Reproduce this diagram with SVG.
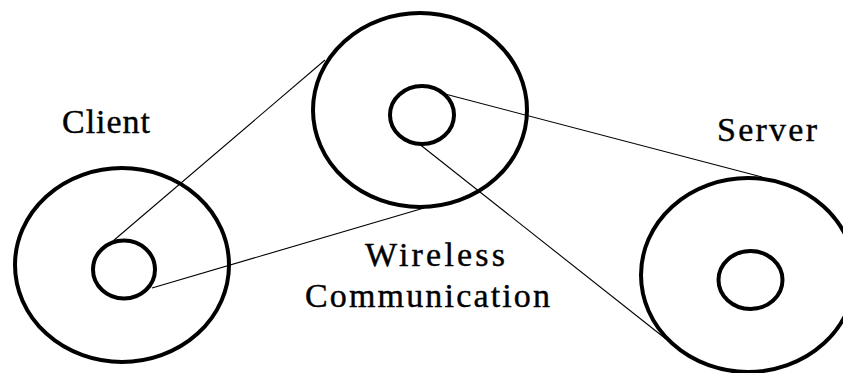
<svg xmlns="http://www.w3.org/2000/svg" width="843" height="373" viewBox="0 0 843 373">
<style>
.ring{fill:none;stroke:#000;stroke-width:4}
.hole{fill:none;stroke:#000;stroke-width:4}
.link{stroke:#000;stroke-width:1.1;fill:none}
text{font-family:"Liberation Serif","Times New Roman",serif;font-size:34px;fill:#000;stroke:#000;stroke-width:0.4}
</style>
<rect width="843" height="373" fill="#fff"/>
<g id="connectors">
<line class="link" x1="113" y1="241" x2="325" y2="60"/>
<line class="link" x1="152" y1="288" x2="424" y2="208"/>
<line class="link" x1="445" y1="94" x2="762" y2="177"/>
<line class="link" x1="418" y1="143" x2="666" y2="339"/>
</g>
<g id="client">
<ellipse class="ring" cx="122" cy="265" rx="107" ry="97"/>
<ellipse class="hole" cx="124" cy="269.5" rx="31" ry="29"/>
<text x="62" y="133" textLength="88" lengthAdjust="spacing">Client</text>
</g>
<g id="wireless">
<ellipse class="ring" cx="420" cy="110" rx="107" ry="97"/>
<ellipse class="hole" cx="422" cy="115" rx="32" ry="29"/>
<text x="365" y="266" textLength="140" lengthAdjust="spacing">Wireless</text>
<text x="305" y="307" textLength="245" lengthAdjust="spacing">Communication</text>
</g>
<g id="server">
<ellipse class="ring" cx="748" cy="275" rx="107" ry="97"/>
<ellipse class="hole" cx="750.5" cy="280" rx="32" ry="29"/>
<text x="717" y="141" textLength="100" lengthAdjust="spacing">Server</text>
</g>
</svg>
